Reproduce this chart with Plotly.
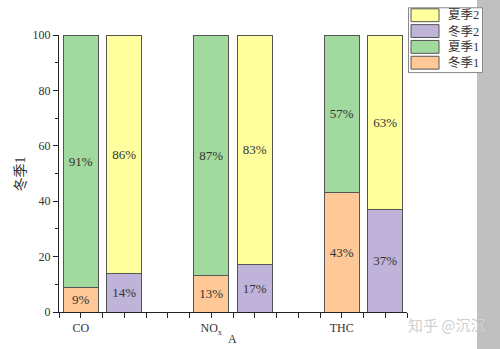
import plotly.graph_objects as go

# Pollutant categories and the share (%) of each season/group in the two stacked bars
categories = ["CO", "NO<sub>x</sub>", "THC"]
winter1 = [9, 13, 43]
summer1 = [91, 87, 57]
winter2 = [14, 17, 37]
summer2 = [86, 83, 63]

names = ["冬季1", "夏季1", "冬季2", "夏季2"]
colors = {"冬季1": "#FFC897", "夏季1": "#A2D99E", "冬季2": "#BFB3DA", "夏季2": "#FFFF9E"}
edge = "#555555"
serif = "Liberation Serif, Noto Sans CJK SC, serif"

# Each category occupies 6 axis units: first stack at +1, second stack at +3
pos1 = [1 + 6 * i for i in range(len(categories))]
pos2 = [p + 2 for p in pos1]

fig = go.Figure()


def add_bar(x, y, name):
    fig.add_trace(go.Bar(
        x=x, y=y, name=name, width=1.62,
        marker=dict(color=colors[name], line=dict(color=edge, width=1)),
        text=[f"{v}%" for v in y], textposition="inside",
        insidetextanchor="middle", constraintext="none",
        textfont=dict(family=serif, size=13, color="#333333"),
        showlegend=False,
    ))


add_bar(pos1, winter1, "冬季1")
add_bar(pos1, summer1, "夏季1")
add_bar(pos2, winter2, "冬季2")
add_bar(pos2, summer2, "夏季2")

shapes = []
annotations = []

# Plot area in px, used to place paper-referenced decorations
W, H = 348.0, 280.0
def px(xp):
    return (xp - 59) / W
def py(yp):
    return (314 - yp) / H

# Grey strip along the right edge of the canvas
shapes.append(dict(type="rect", xref="paper", yref="paper", x0=px(477), x1=px(505),
                   y0=py(360), y1=py(-10), fillcolor="#C0C0C0", line=dict(width=0), layer="below"))

# Legend box (top to bottom: 夏季2, 冬季2, 夏季1, 冬季1)
shapes.append(dict(type="rect", xref="paper", yref="paper", x0=px(408.5), x1=px(482.5),
                   y0=py(72), y1=py(6.5), fillcolor="white", line=dict(color="#888888", width=1)))
legend_order = ["夏季2", "冬季2", "夏季1", "冬季1"]
for k, nm in enumerate(legend_order):
    yc = 14 + k * 16
    shapes.append(dict(type="rect", xref="paper", yref="paper", x0=px(411), x1=px(439),
                       y0=py(yc + 6.5), y1=py(yc - 6.5), fillcolor=colors[nm],
                       line=dict(color=edge, width=1)))
    annotations.append(dict(xref="paper", yref="paper", x=px(446), y=py(yc), text=nm,
                            showarrow=False, xanchor="left", yanchor="middle",
                            font=dict(family=serif, size=12.5, color="#333333")))

# Axis titles
annotations.append(dict(xref="paper", yref="paper", x=px(20), y=py(175), text="冬季1",
                        textangle=-90, showarrow=False, xanchor="center", yanchor="middle",
                        font=dict(family=serif, size=14, color="#333333")))
annotations.append(dict(xref="paper", yref="paper", x=px(232), y=py(341), text="A",
                        showarrow=False, xanchor="center", yanchor="middle",
                        font=dict(family=serif, size=12, color="#333333")))
# Watermark
annotations.append(dict(xref="paper", yref="paper", x=px(447), y=py(327), text="知乎 @沉沉",
                        showarrow=False, xanchor="center", yanchor="middle",
                        font=dict(family="Noto Sans CJK SC", size=15, color="#D0D0D0")))

fig.update_layout(
    barmode="stack",
    width=500, height=349,
    margin=dict(l=59, r=93, t=35, b=35),
    paper_bgcolor="white", plot_bgcolor="white",
    shapes=shapes, annotations=annotations,
    xaxis=dict(
        range=[0, 16], showgrid=False, zeroline=False,
        showline=True, linecolor="#222222", linewidth=1,
        tickvals=pos1, ticktext=categories,
        ticks="outside", ticklen=5, tickcolor="#222222",
        minor=dict(dtick=1, tick0=0, ticks="outside", ticklen=5, tickcolor="#222222"),
        tickfont=dict(family=serif, size=12, color="#333333"),
    ),
    yaxis=dict(
        range=[0, 100], showgrid=False, zeroline=False,
        showline=True, linecolor="#222222", linewidth=1,
        tickvals=[0, 20, 40, 60, 80, 100],
        ticks="outside", ticklen=5, tickcolor="#222222",
        minor=dict(dtick=10, ticks="outside", ticklen=3, tickcolor="#222222"),
        tickfont=dict(family=serif, size=12, color="#333333"),
    ),
)

fig.write_html("out.html")
